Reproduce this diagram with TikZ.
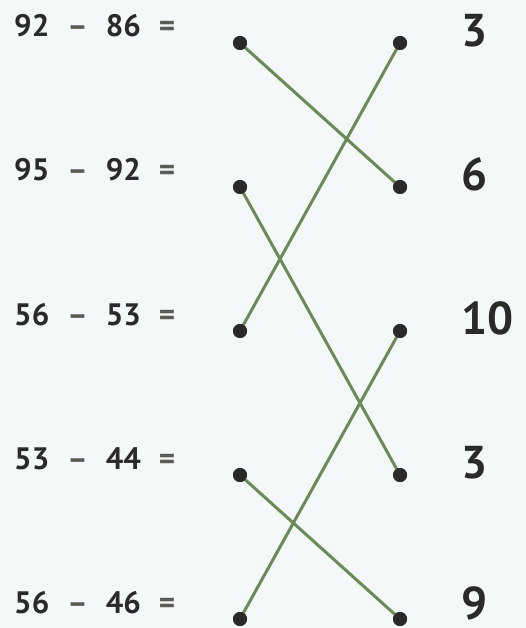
\documentclass[tikz,border=0pt]{standalone}
\usepackage{fontspec}
\setmainfont{PT Sans}
\usepackage{tikz}
\usetikzlibrary{positioning}
\definecolor{bgpaper}{HTML}{F4F8F9}
\definecolor{inkdark}{HTML}{2A2A28}
\definecolor{inkgrey}{HTML}{5A5A56}
\definecolor{linkgreen}{HTML}{6A8A58}
\tikzset{
  dotnode/.style={circle,fill=inkdark,inner sep=0pt,minimum size=14pt},
  sumlabel/.style={anchor=base west,inner sep=0pt,font=\fontsize{31}{31}\selectfont\bfseries,text=inkdark},
  answerlabel/.style={anchor=base west,inner sep=0pt,font=\fontsize{46}{46}\selectfont\bfseries,text=inkdark},
  matchline/.style={draw=linkgreen,line width=3pt}
}
\newcommand{\opsign}[1]{\hspace{18pt}{\color{inkgrey}#1}\hspace{18pt}}

\begin{document}
\begin{tikzpicture}[x=1pt,y=-1pt]
  \fill[bgpaper] (0,0) rectangle (526,628);
  \useasboundingbox (0,0) rectangle (526,628);
  % sums on the left
  \node[sumlabel] (q1) at (14,37) {92\opsign{–}86\opsign{=}};
  \node[sumlabel] (q2) at (14,181) {95\opsign{–}92\opsign{=}};
  \node[sumlabel] (q3) at (14,325) {56\opsign{–}53\opsign{=}};
  \node[sumlabel] (q4) at (14,469) {53\opsign{–}44\opsign{=}};
  \node[sumlabel] (q5) at (14,613) {56\opsign{–}46\opsign{=}};
  % answers on the right
  \node[answerlabel] (a1) at (461,47) {3};
  \node[answerlabel] (a2) at (461,191) {6};
  \node[answerlabel] (a3) at (461,334) {10};
  \node[answerlabel] (a4) at (461,478) {3};
  \node[answerlabel] (a5) at (461,619) {9};
  % dots
  \foreach \i/\y in {1/43,2/187,3/331,4/475,5/619}{
    \node[dotnode] (l\i) at (240,\y) {};
    \node[dotnode] (r\i) at (400,\y) {};
  }
  % matches
  \draw[matchline] (l1.center) -- (r2.center);
  \draw[matchline] (l2.center) -- (r4.center);
  \draw[matchline] (l3.center) -- (r1.center);
  \draw[matchline] (l4.center) -- (r5.center);
  \draw[matchline] (l5.center) -- (r3.center);
  % dots again on top
  \foreach \i/\y in {1/43,2/187,3/331,4/475,5/619}{
    \fill[inkdark] (l\i) circle (7pt);
    \fill[inkdark] (r\i) circle (7pt);
  }
\end{tikzpicture}
\end{document}
